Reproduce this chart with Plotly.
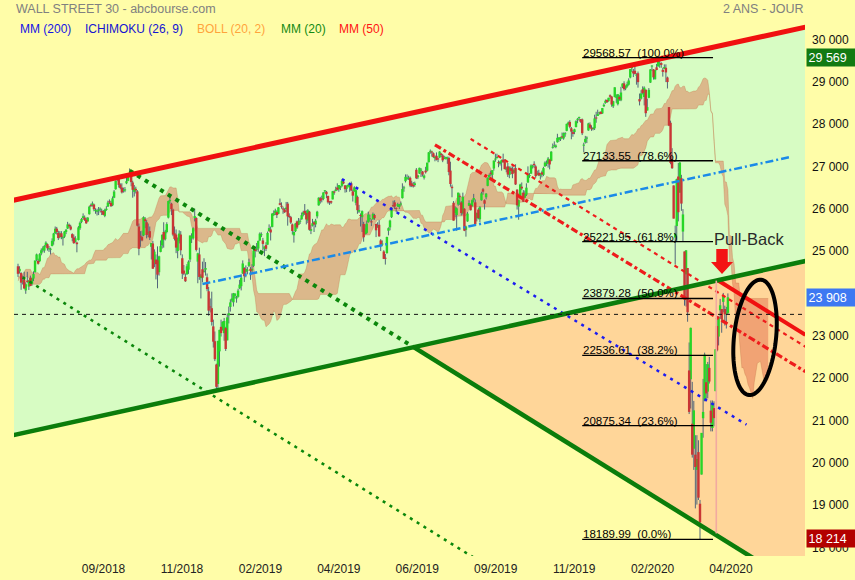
import numpy as np
import plotly.graph_objects as go

FONT = "Arial, 'Liberation Sans', sans-serif"

# ---------------- daily prices, bar 0 = 21/06/2018 ... bar 458 = 17/04/2020 ----------------
opens = [
    24640, 24520, 24480, 24280, 24330, 24070, 24300,
    24160, 24370, 24220, 24350, 24500, 24790, 24770, 24760, 24940, 25020, 25010, 25130, 25160, 25050, 25040, 25120, 25230, 25420, 25530, 25430, 25330,
    25420, 25300, 25340, 25450, 25530, 25620, 25580, 25400, 25320, 25220, 25200, 25260, 25540, 25690, 25780, 25790, 25740, 25700, 25870, 26080, 26080, 26100, 25950,
    25930, 25950, 25980, 25950, 25940, 25830, 25970, 26050, 26170, 26140, 26080, 26260, 26460, 26690, 26700, 26570, 26500, 26420, 26430,
    26600, 26660, 26800, 26800, 26620, 26400, 26470, 26410, 25580, 25350, 25330, 25370, 25750, 25680, 25420, 25470, 25100, 25180, 24720, 24800, 24780, 24500, 24980,
    25130, 25450, 25280, 25450, 25790, 26190, 26120, 25980, 25420, 25390, 25000, 25230, 25390, 24830, 24540, 24390, 24450, 24560, 24800, 25300, 25300,
    25780, 25780, 24750, 24920, 24360, 24570, 24520, 24560, 24380, 24050, 23680, 23650, 23220, 22870, 22320, 21860, 22630, 23210, 23150,
    23060, 23180, 22890, 23480, 23680, 23830, 23790, 23940, 23880, 23920, 24120, 24170, 24470, 24600, 24510, 24540, 24650, 24580, 24540, 24650, 25050,
    25030, 25060, 25250, 25380, 25250, 25050, 25140, 25150, 25470, 25510, 25570, 25850, 25900, 25920, 25880, 26130, 26060, 26000, 25980,
    25990, 26120, 25830, 25800, 25630, 25370, 25470, 25700, 25620, 25700, 25750, 25860, 25950, 25900, 25720, 25930, 25480, 25600, 25680, 25630, 25820,
    26080, 26250, 26240, 26230, 26420, 26400, 26300, 26170, 26180, 26220, 26400, 26420, 26500, 26460, 26510, 26540, 26640, 26550, 26470, 26540, 26500,
    26600, 26410, 26410, 26140, 26280, 25930, 25850, 25800, 25640, 25400, 25430, 25680, 25760, 25700, 25750, 25850, 25640, 25560, 25620, 25250, 25160, 24990,
    24840, 24950, 25480, 25560, 25800, 26080, 26150, 26010, 26060, 26040, 26110, 26250, 26480, 26650, 26720, 26720, 26730, 26600, 26560, 26560,
    26920, 26740, 26830, 26900, 26880, 26730, 26900, 26900, 27100, 27350, 27340, 27310, 27190, 27250, 27180, 27210, 27300, 27260, 27180, 27190, 27170, 27200,
    26900, 26520, 26140, 25900, 25850, 26100, 26300, 26150, 25890, 26000, 25500, 25700, 26070, 26090, 26060, 26210, 26150, 25770, 25980, 25750, 26200, 26460,
    26200, 26270, 26540, 26740, 26840, 26800, 26950, 27160, 27200, 27100, 27060, 27100, 27160, 27110, 26920, 27000, 26800, 26960, 26930, 26850,
    26960, 26450, 26050, 26250, 26520, 26380, 26260, 26330, 26620, 26780, 26830, 27000, 27060, 27000, 26820, 26850, 26780, 26860, 26800, 27000, 27070, 27070, 27160,
    27130, 27440, 27480, 27460, 27570, 27630, 27640, 27700, 27660, 27760, 27840, 28000, 28050, 27900, 27810, 27810, 27930, 28100, 28140, 28110,
    28110, 27500, 27570, 27660, 27850, 27990, 27900, 27880, 27900, 28150, 28190, 28260, 28290, 28250, 28420, 28500, 28570, 28540, 28680, 28650, 28420,
    28640, 28630, 28470, 28640, 28560, 28880, 28960, 28840, 28890, 28930, 29100, 29320, 29250, 29260, 29150, 29200, 28590, 28600, 28820, 28640, 28810,
    28320, 28620, 28980, 29360, 29290, 29060, 29340, 29360, 29420, 29440, 29280, 29310, 29330, 29100, 28400, 28030, 27170, 26550, 25320,
    25590, 26760, 26380, 26720, 25460, 24990, 24450, 24600, 22180, 21970, 20920, 20330, 20190, 19830, 20250, 19030, 19720, 21050, 21470, 21900, 21680, 22240,
    21230, 20820, 21290, 21690, 23230, 22980, 23600, 23630, 23800, 23630, 23520, 23540,
]
highs = [
    24700, 24640, 24500, 24420, 24510, 24260, 24510,
    24320, 24420, 24370, 24520, 24780, 24940, 24820, 24950, 25060, 25110, 25140, 25230, 25180, 25120, 25080, 25300, 25430, 25580, 25570, 25480, 25470,
    25470, 25360, 25470, 25520, 25690, 25650, 25620, 25420, 25390, 25350, 25220, 25590, 25700, 25780, 25890, 25840, 25790, 25800, 26070, 26120, 26170, 26120, 26010,
    26000, 26040, 26030, 26000, 25970, 26000, 26060, 26190, 26220, 26190, 26290, 26440, 26670, 26770, 26720, 26600, 26600, 26500, 26510,
    26770, 26820, 26951, 26810, 26660, 26560, 26520, 26440, 25650, 25470, 25480, 25820, 25800, 25730, 25650, 25580, 25190, 25240, 25040, 24920, 25110, 24890, 25250,
    25400, 25680, 25500, 25680, 26190, 26280, 26140, 26000, 25580, 25510, 25320, 25490, 25470, 24920, 24670, 24470, 24690, 24780, 25370, 25420, 25560,
    26000, 25800, 24960, 25080, 24460, 24750, 24830, 24740, 24470, 24150, 23880, 24040, 23380, 23100, 22340, 22880, 23140, 23380, 23340,
    23420, 23210, 23520, 23690, 23860, 24000, 24010, 24000, 23940, 24110, 24320, 24450, 24780, 24620, 24660, 24620, 24820, 24620, 24690, 25050, 25090,
    25190, 25250, 25440, 25440, 25310, 25110, 25210, 25460, 25630, 25580, 25900, 25960, 26000, 25960, 26040, 26240, 26150, 26050, 26010,
    26160, 26160, 25890, 25830, 25650, 25470, 25660, 25720, 25780, 25770, 25910, 25950, 26110, 25960, 25990, 25950, 25620, 25760, 25710, 25760, 25950,
    26270, 26280, 26310, 26390, 26440, 26420, 26310, 26180, 26190, 26420, 26430, 26520, 26600, 26560, 26540, 26695, 26670, 26560, 26550, 26590, 26600,
    26640, 26450, 26530, 26460, 26310, 26090, 25890, 25960, 25690, 25630, 25720, 25930, 25860, 25750, 25910, 25880, 25650, 25680, 25730, 25280, 25250, 25020,
    24930, 25340, 25560, 25740, 26040, 26190, 26200, 26030, 26140, 26110, 26170, 26600, 26540, 26810, 26810, 26780, 26760, 26660, 26630, 26640,
    26960, 26800, 26970, 26960, 26890, 26810, 26990, 27090, 27340, 27399, 27370, 27330, 27260, 27330, 27210, 27360, 27320, 27290, 27250, 27230, 27230, 27230,
    27110, 26570, 26180, 26060, 26030, 26380, 26360, 26180, 26380, 26010, 25600, 25920, 26200, 26120, 26220, 26350, 26220, 25910, 26020, 26060, 26400, 26490,
    26220, 26370, 26740, 26830, 26900, 26910, 27140, 27300, 27300, 27140, 27130, 27160, 27300, 27170, 26990, 27080, 27000, 27000, 27000, 26970,
    27050, 26460, 26210, 26590, 26620, 26440, 26430, 26600, 27000, 26840, 27050, 27040, 27120, 27030, 26900, 26920, 26840, 26900, 26990, 27120, 27140, 27220, 27170,
    27360, 27540, 27590, 27520, 27770, 27690, 27700, 27800, 27800, 27810, 28010, 28060, 28090, 27930, 27860, 27890, 28090, 28140, 28175, 28120,
    28130, 27560, 27720, 27710, 28030, 28040, 27970, 27930, 28220, 28290, 28340, 28290, 28300, 28380, 28490, 28580, 28580, 28620, 28700, 28660, 28550,
    28870, 28700, 28710, 28680, 28880, 28960, 29010, 28910, 29000, 29080, 29300, 29380, 29300, 29370, 29200, 29240, 28720, 28800, 28890, 28890, 28820,
    28600, 28850, 29300, 29390, 29300, 29280, 29420, 29568.57, 29500, 29460, 29330, 29410, 29410, 29120, 28400, 28080, 27430, 26550, 25600,
    26710, 27080, 27100, 26800, 25990, 24990, 25020, 24600, 22840, 23190, 21910, 21460, 20650, 20650, 20530, 19120, 20700, 21980, 22600, 22330, 22380, 22500,
    21470, 21470, 21450, 22680, 23390, 23460, 23870, 23630, 24010, 23710, 23680, 24000,
]
lows = [
    24390, 24470, 24084, 24210, 24100, 23990, 24250,
    24080, 24170, 24180, 24290, 24490, 24760, 24680, 24740, 24900, 24970, 24960, 25090, 25010, 24980, 24920, 25110, 25150, 25400, 25390, 25260, 25300,
    25280, 25130, 25310, 25400, 25520, 25550, 25490, 25230, 25170, 25200, 24970, 25250, 25500, 25660, 25750, 25710, 25640, 25690, 25860, 26040, 26050, 25940, 25880,
    25840, 25850, 25910, 25850, 25850, 25800, 25950, 26040, 26110, 26040, 26060, 26250, 26450, 26650, 26500, 26460, 26360, 26380, 26390,
    26580, 26650, 26780, 26530, 26260, 26290, 26360, 25580, 24900, 25100, 25230, 25350, 25540, 25300, 25330, 25260, 24800, 24580, 24620, 24330, 24120, 24420, 24970,
    25060, 25080, 25250, 25420, 25770, 26120, 25850, 25350, 25250, 24950, 24830, 25180, 24900, 24340, 24430, 24270, 24440, 24460, 24740, 25190, 25270,
    25700, 24990, 24240, 24320, 23880, 24260, 24490, 24420, 24050, 23470, 23550, 23240, 22720, 22400, 21712, 21760, 22270, 22980, 23120,
    22880, 22640, 22890, 23290, 23570, 23790, 23690, 23880, 23780, 23900, 24100, 24070, 24460, 24270, 24380, 24450, 24620, 24320, 24480, 24620, 24850,
    24990, 24980, 25240, 25330, 25010, 24880, 25000, 25150, 25460, 25250, 25560, 25830, 25850, 25780, 25870, 26080, 26000, 25880, 25900,
    25920, 25600, 25780, 25640, 25390, 25200, 25450, 25520, 25610, 25640, 25740, 25820, 25850, 25630, 25660, 25480, 25400, 25580, 25450, 25560, 25770,
    26070, 26120, 26150, 26200, 26370, 26250, 26120, 26090, 26110, 26220, 26330, 26410, 26430, 26400, 26440, 26510, 26580, 26380, 26390, 26510, 26400,
    26420, 26170, 26400, 26080, 25880, 25900, 25580, 25450, 25220, 25390, 25400, 25670, 25700, 25590, 25740, 25740, 25330, 25550, 25340, 25000, 25120, 24810,
    24680, 24940, 25370, 25490, 25780, 26030, 25990, 25920, 26040, 25990, 26070, 26240, 26400, 26620, 26680, 26680, 26510, 26510, 26500, 26520,
    26700, 26700, 26820, 26750, 26760, 26690, 26830, 26880, 27090, 27300, 27230, 27200, 27120, 27140, 27100, 27200, 27220, 27100, 27170, 27160, 27060, 26790,
    26520, 26270, 25720, 25800, 25480, 26070, 26090, 25840, 25860, 25470, 25340, 25690, 26060, 25960, 26050, 26150, 25600, 25700, 25750, 25680, 26190, 26330,
    25980, 26220, 26530, 26700, 26780, 26700, 26900, 27110, 27180, 26980, 27020, 26900, 27090, 26930, 26860, 26750, 26720, 26810, 26720, 26840,
    26560, 25980, 25740, 26230, 26440, 26160, 26250, 26300, 26610, 26730, 26820, 26950, 26960, 26730, 26790, 26770, 26690, 26740, 26770, 26990, 27010, 26970, 26930,
    27120, 27420, 27450, 27430, 27560, 27580, 27600, 27650, 27630, 27700, 27830, 27970, 27900, 27640, 27700, 27760, 27920, 28020, 28080, 28030,
    27740, 27330, 27540, 27550, 27840, 27890, 27840, 27850, 27860, 28030, 28190, 28220, 28230, 28240, 28400, 28480, 28500, 28530, 28600, 28410, 28380,
    28630, 28500, 28440, 28550, 28540, 28850, 28790, 28800, 28860, 28910, 29080, 29230, 29110, 29170, 28930, 28860, 28440, 28580, 28700, 28440, 28170,
    28320, 28610, 28970, 29250, 29050, 29050, 29270, 29360, 29330, 29330, 29120, 29300, 28990, 28840, 27950, 27050, 26940, 25770, 24681,
    25220, 25700, 26380, 25950, 25230, 23710, 23690, 23330, 21150, 21280, 20120, 19830, 18920, 19010, 19120, 18189.99, 19720, 20590, 21450, 21470, 21520, 21870,
    20740, 20740, 20860, 21690, 22630, 22770, 23400, 23070, 23550, 23240, 23170, 23500,
]
closes = [
    24462, 24580, 24253, 24284, 24117, 24216, 24271,
    24307, 24174, 24356, 24456, 24776, 24920, 24700, 24925, 25019, 25064, 25120, 25199, 25065, 25058, 25044, 25241, 25415, 25527, 25451, 25307, 25415,
    25333, 25327, 25463, 25502, 25629, 25584, 25509, 25313, 25187, 25300, 25162, 25559, 25669, 25758, 25823, 25733, 25656, 25790, 26049, 26064, 26124, 25987, 25965,
    25952, 25975, 25996, 25917, 25857, 25971, 25999, 26145, 26155, 26062, 26246, 26406, 26657, 26744, 26562, 26492, 26385, 26440, 26458,
    26651, 26774, 26828, 26627, 26447, 26487, 26431, 25599, 25053, 25340, 25250, 25798, 25706, 25380, 25444, 25317, 25191, 24583, 24985, 24689, 24443, 24875, 25116,
    25381, 25271, 25462, 25636, 26181, 26191, 25989, 25388, 25287, 25081, 25290, 25414, 25018, 24466, 24465, 24286, 24640, 24749, 25366, 25339, 25538,
    25826, 25027, 24947, 24389, 24423, 24370, 24527, 24597, 24101, 23592, 23676, 23324, 22859, 22445, 21792, 22878, 23138, 23062, 23327,
    23347, 22686, 23433, 23531, 23787, 23879, 24001, 23996, 23910, 24066, 24207, 24370, 24706, 24404, 24575, 24554, 24737, 24529, 24580, 25014, 24999,
    25064, 25239, 25411, 25391, 25169, 25106, 25053, 25425, 25543, 25439, 25883, 25891, 25954, 25850, 26031, 26092, 26057, 25986, 25916,
    26026, 25819, 25806, 25673, 25473, 25450, 25650, 25555, 25702, 25709, 25849, 25914, 25887, 25746, 25963, 25502, 25517, 25658, 25626, 25718, 25929,
    26259, 26180, 26218, 26385, 26425, 26341, 26151, 26157, 26143, 26412, 26385, 26453, 26450, 26559, 26511, 26656, 26597, 26462, 26543, 26554, 26593,
    26430, 26308, 26505, 26438, 25965, 25968, 25828, 25942, 25325, 25532, 25648, 25863, 25764, 25680, 25877, 25776, 25490, 25586, 25347, 25126, 25170, 24815,
    24820, 25332, 25540, 25720, 25984, 26062, 26048, 26005, 26107, 26090, 26112, 26465, 26504, 26753, 26720, 26727, 26548, 26537, 26526, 26600,
    26718, 26787, 26966, 26922, 26806, 26784, 26860, 27088, 27332, 27359, 27336, 27220, 27223, 27154, 27172, 27350, 27270, 27141, 27192, 27222, 27199, 26865,
    26583, 26485, 25718, 26030, 26008, 26379, 26287, 25897, 26280, 25480, 25579, 25886, 26136, 25963, 26202, 26253, 25629, 25899, 25778, 26036, 26363, 26403,
    26118, 26356, 26728, 26797, 26836, 26910, 27137, 27182, 27220, 27076, 27111, 27147, 27095, 26935, 26950, 26808, 26970, 26892, 26820, 26917,
    26573, 26079, 26202, 26573, 26478, 26165, 26347, 26497, 26817, 26787, 27024, 27002, 27026, 26770, 26828, 26788, 26834, 26806, 26958, 27091, 27071, 27186, 27046,
    27347, 27462, 27492, 27493, 27675, 27681, 27691, 27691, 27784, 27782, 28005, 28036, 27934, 27821, 27767, 27876, 28067, 28122, 28164, 28051,
    27783, 27503, 27650, 27677, 28015, 27910, 27882, 27911, 28133, 28135, 28235, 28268, 28240, 28377, 28455, 28551, 28516, 28621, 28645, 28462, 28538,
    28868, 28635, 28703, 28584, 28745, 28957, 28824, 28907, 28940, 29030, 29298, 29348, 29196, 29186, 29160, 28990, 28535, 28723, 28734, 28859, 28256,
    28400, 28808, 29291, 29380, 29103, 29276, 29277, 29551, 29424, 29398, 29232, 29348, 29220, 28992, 27961, 27081, 26957, 25766, 25409,
    26703, 25917, 27091, 26121, 25865, 23851, 25018, 23553, 21200, 23186, 20189, 21237, 19899, 20087, 19174, 18592, 20705, 21200, 22552, 21637, 22327, 21917,
    20944, 21413, 21053, 22680, 22654, 23434, 23719, 23391, 23950, 23504, 23538, 23908,
]
# highs / lows before the first bar (02/03/2018 - 20/06/2018), only feed the Ichimoku cloud
pre_highs = [
    24600, 24950, 24980, 24840, 24930, 25340, 25450, 25400, 25050, 24990, 25030, 24910, 24840, 24980, 24670, 24000, 24220, 24400, 24030, 24200,
    24050, 24060, 24290, 24560, 24340, 24340, 24420, 24350, 24560, 24640, 24620, 24860, 24860, 24720, 24680, 24580, 24860, 24130, 24400, 24390, 24500,
    24130, 24200, 23930, 24300, 24480, 24400, 24580, 24780, 24860, 25050, 24820, 24830, 24880, 24780, 25090, 25090, 24900, 24900, 24810, 24600, 24700, 24650,
    24680, 24860, 24850, 25160, 25330, 25330, 25400, 25400, 25360, 25230, 25180, 25020, 24840, 24760,
]
pre_lows = [
    24120, 24300, 24760, 24560, 24780, 25000, 25150, 24920, 24660, 24780, 24860, 24430, 24640, 24670, 23940, 23510, 23620, 23780, 23640, 23830,
    23340, 23720, 23520, 24320, 23860, 23950, 24100, 24150, 24230, 24270, 24460, 24650, 24700, 24520, 24390, 24370, 23980, 23720, 24110, 24230, 24160,
    23810, 23920, 23530, 23800, 24290, 24130, 24350, 24560, 24700, 24880, 24630, 24670, 24660, 24650, 24880, 24800, 24560, 24630, 24660, 24240, 24390, 24380,
    24460, 24650, 24740, 24810, 25140, 25150, 25300, 25290, 25200, 25080, 24900, 24850, 24530, 24630,
]

tick_pos = [55.2, 105.8, 156.4, 207.0, 257.6, 308.2, 358.8, 409.4, 460.0]
tick_text = ["09/2018", "11/2018", "02/2019", "04/2019", "06/2019", "09/2019", "11/2019", "02/2020", "04/2020"]
y_ticks = list(range(18000, 30001, 1000))

# ---- drawings (bar index, price) ----
red_top = [(-3, 26200), (508, 30290)]
green_bottom = [(-3, 20650), (508, 24765)]
crash_line = [(72, 26900), (508, 16980)]
crash_line_low = [(3, 24380), (508, 12890)]
blue_dashdot = [(119, 24220), (498, 27220)]
blue_dotted = [(209, 26700), (470, 20900)]
red_dashdot = [(269, 27510), (508, 22150)]
red_dotted = [(292, 27650), (508, 22740)]
red_solid = [(452, 24300), (508, 23020)]
dashed_level = 23504
fib_span = (364, 448.4)
fib_values = [29568.57, 27133.55, 25221.95, 23879.28, 22536.61, 20875.34, 18189.99]
fib_pcts = [100.0, 78.6, 61.8, 50.0, 38.2, 23.6, 0.0]
boll_bar = (450.5, 24300, 18330)
pullback_pos = (448.4, 25285)
arrow = dict(x=454.2, top=25050, neck=24740, tip=24460, shaft=3.7, head=7.1)
ellipse = dict(x=475.5, y=22960, rx_px=21, ry_px=58, tilt=6)
badges = [("29 569", 29569, "#127a12"), ("23 908", 23908, "#3d78f2"), ("18 214", 18214, "#b30000")]

X0, X1 = -2.58, 507.74
Y0, Y1 = 17796, 30458
PX_PER_BAR = 791 / (X1 - X0)
PTS_PER_PX = (Y1 - Y0) / 536

BG = "#FFFDA8"
GREEN_BG = "#D7FCC3"
ORANGE_BG = "#FFD699"

for name, arr in [("opens", opens), ("highs", highs), ("lows", lows)]:
    assert len(arr) == len(closes), (name, len(arr), len(closes))
assert len(pre_highs) == len(pre_lows)

n = len(closes)
o = np.array(opens, float)
h = np.array(highs, float)
l = np.array(lows, float)
c = np.array(closes, float)

# ---- Ichimoku (26, 9) ----
full_h = np.array(pre_highs + highs, float)
full_l = np.array(pre_lows + lows, float)
off = len(pre_highs)
SHIFT = 26


def mid(k, p):
    return (full_h[k - p + 1:k + 1].max() + full_l[k - p + 1:k + 1].min()) / 2


span_x, span_a, span_b = [], [], []
for j in range(n + SHIFT):
    k = j - SHIFT + off
    if k - 51 < 0 or k >= len(full_h):
        continue
    span_x.append(j)
    span_a.append((mid(k, 9) + mid(k, 26)) / 2)
    span_b.append(mid(k, 52))

fig = go.Figure()
cloud_line = dict(width=0.7, color="rgba(190,115,70,0.45)")
fig.add_trace(go.Scatter(x=span_x, y=span_a, mode="lines", line=cloud_line, hoverinfo="skip"))
fig.add_trace(go.Scatter(x=span_x, y=span_b, mode="lines", line=cloud_line, fill="tonexty",
                         fillcolor="rgba(224,103,70,0.45)", hoverinfo="skip"))

# ---- candles ----
wx, wy = [], []
gx, gy, rx_, ry_ = [], [], [], []
for i in range(n):
    wx += [i, i, None]
    wy += [l[i], h[i], None]
    lo_b, hi_b = min(o[i], c[i]), max(o[i], c[i])
    if hi_b - lo_b < 25:
        m = (hi_b + lo_b) / 2
        lo_b, hi_b = m - 12.5, m + 12.5
    if c[i] >= o[i]:
        gx += [i, i, None]
        gy += [lo_b, hi_b, None]
    else:
        rx_ += [i, i, None]
        ry_ += [lo_b, hi_b, None]
fig.add_trace(go.Scatter(x=wx, y=wy, mode="lines", line=dict(width=1, color="#52667a"), hoverinfo="skip"))
fig.add_trace(go.Scatter(x=gx, y=gy, mode="lines", line=dict(width=2.4, color="#27d627"), hoverinfo="skip"))
fig.add_trace(go.Scatter(x=rx_, y=ry_, mode="lines", line=dict(width=2.4, color="#c93535"), hoverinfo="skip"))


def intersect(l1, l2):
    (x1, y1), (x2, y2) = l1
    (x3, y3), (x4, y4) = l2
    m1 = (y2 - y1) / (x2 - x1)
    m2 = (y4 - y3) / (x4 - x3)
    x = (y3 - y1 + m1 * x1 - m2 * x3) / (m1 - m2)
    return x, y1 + m1 * (x - x1)


def path(pts, close=True):
    s = "M " + " L ".join(f"{x},{y}" for x, y in pts)
    return s + (" Z" if close else "")


shapes = []
# background areas
shapes.append(dict(type="path", xref="x", yref="y", layer="below", line=dict(width=0), fillcolor=GREEN_BG,
                   path=path([red_top[0], red_top[1], green_bottom[1], green_bottom[0]])))
ix, iy = intersect(crash_line, green_bottom)
shapes.append(dict(type="path", xref="x", yref="y", layer="below", line=dict(width=0), fillcolor=ORANGE_BG,
                   path=path([(ix, iy), green_bottom[1], crash_line[1]])))


def seg(p0, p1, color, width, dash="solid"):
    shapes.append(dict(type="line", xref="x", yref="y", x0=p0[0], y0=p0[1], x1=p1[0], y1=p1[1],
                       line=dict(color=color, width=width, dash=dash)))


seg(*crash_line_low, "#0b870b", 2.6, "3px,5px")
seg(crash_line[0], (ix, iy), "#0b870b", 4, "4px,5px")
seg((ix, iy), crash_line[1], "#0b7d0b", 4.5)
seg(*blue_dotted, "#1c1cf0", 2.5, "3px,5px")
seg(*blue_dashdot, "#1a8ae8", 2.5, "8px,3px,2px,3px")
seg(*red_dotted, "#ee1c1c", 2.2, "4px,4px")
seg(*red_dashdot, "#ee1c1c", 3.2, "7px,3px,3px,3px")
seg(*red_solid, "#f01010", 4)
seg(*red_top, "#f01010", 5)
seg(*green_bottom, "#0b7d0b", 4.5)
shapes.append(dict(type="line", xref="paper", yref="y", x0=0, x1=1, y0=dashed_level, y1=dashed_level,
                   line=dict(color="#111", width=1, dash="4px,4px")))
# bollinger marker
shapes.append(dict(type="line", xref="x", yref="y", x0=boll_bar[0], x1=boll_bar[0], y0=boll_bar[1], y1=boll_bar[2],
                   line=dict(color="#f2aaa0", width=1.6)))

# fibonacci
annotations = []
for v, p in zip(fib_values, fib_pcts):
    shapes.append(dict(type="line", xref="x", yref="y", x0=fib_span[0], x1=fib_span[1], y0=v, y1=v,
                       line=dict(color="#000", width=1.3)))
    annotations.append(dict(x=fib_span[0], y=v, xref="x", yref="y", xanchor="left", yanchor="bottom",
                            text=f"{v:.2f} \u00a0({p:.1f}%)", showarrow=False, xshift=-1, yshift=-3,
                            font=dict(size=11.5, color="#000", family=FONT)))

# arrow
a = arrow
shapes.append(dict(type="path", xref="x", yref="y", fillcolor="#f31414", line=dict(width=0),
                   path=path([(a["x"] - a["shaft"], a["top"]), (a["x"] + a["shaft"], a["top"]),
                              (a["x"] + a["shaft"], a["neck"]), (a["x"] + a["head"], a["neck"]),
                              (a["x"], a["tip"]), (a["x"] - a["head"], a["neck"]),
                              (a["x"] - a["shaft"], a["neck"])])))

# ellipse
e = ellipse
phi = np.radians(e["tilt"])
pts = []
for t in np.linspace(0, 2 * np.pi, 97):
    ex, ey = e["rx_px"] * np.cos(t), e["ry_px"] * np.sin(t)
    rxp = ex * np.cos(phi) - ey * np.sin(phi)
    ryp = ex * np.sin(phi) + ey * np.cos(phi)
    pts.append((e["x"] + rxp / PX_PER_BAR, e["y"] - ryp * PTS_PER_PX))
shapes.append(dict(type="path", xref="x", yref="y", line=dict(color="#000", width=4), path=path(pts)))

annotations.append(dict(x=pullback_pos[0], y=pullback_pos[1], xref="x", yref="y", xanchor="left", yanchor="middle",
                        text="Pull-Back", showarrow=False, xshift=-1,
                        font=dict(size=16.5, color="#2a2a2a", family=FONT)))

for txt, v, col in badges:
    annotations.append(dict(x=1, xref="paper", y=v, yref="y", xanchor="left", yanchor="middle", xshift=1,
                            text=txt, showarrow=False, bgcolor=col, borderpad=1.5, width=45, align="left",
                            font=dict(size=12.5, color="white", family=FONT)))


def py(ypix):
    return (556 - ypix) / 536


def px(xpix):
    return (xpix - 14) / 791


annotations.append(dict(x=px(14), y=py(9), xref="paper", yref="paper", xanchor="left", yanchor="middle",
                        text="WALL STREET 30 - abcbourse.com", showarrow=False,
                        font=dict(size=12.5, color="#808080", family=FONT)))
annotations.append(dict(x=px(806), y=py(9), xref="paper", yref="paper", xanchor="right", yanchor="middle",
                        text="2 ANS - JOUR", showarrow=False, font=dict(size=12.5, color="#808080", family=FONT)))
legend_items = [("MM (200)", 19, "#1414e6"), ("ICHIMOKU (26, 9)", 84, "#1414d2"), ("BOLL (20, 2)", 196, "#ffa43c"),
                ("MM (20)", 280, "#138a13"), ("MM (50)", 338, "#ff1414")]
for txt, xp, col in legend_items:
    annotations.append(dict(x=px(xp), y=py(29.5), xref="paper", yref="paper", xanchor="left", yanchor="middle",
                            text=txt, showarrow=False, xshift=-1, font=dict(size=12, color=col, family=FONT)))

fig.update_layout(
    width=855, height=580,
    margin=dict(l=14, r=50, t=20, b=24),
    paper_bgcolor=BG, plot_bgcolor=BG,
    showlegend=False,
    font=dict(family=FONT, size=12, color="#222"),
    shapes=shapes, annotations=annotations,
    xaxis=dict(range=[X0, X1], tickvals=tick_pos, ticktext=tick_text, showgrid=False, zeroline=False,
               showline=False, ticks="", tickfont=dict(size=12, color="#222"), automargin=False,
               ticklabelstandoff=4, fixedrange=True),
    yaxis=dict(range=[Y0, Y1], side="right", tickvals=y_ticks,
               ticktext=[f"{v // 1000} {v % 1000:03d}" for v in y_ticks],
               showgrid=False, zeroline=False, showline=False, ticks="", automargin=False,
               tickfont=dict(size=12, color="#111"), ticklabelstandoff=6, fixedrange=True),
)

fig.write_html(
    "out.html",
    config={"displayModeBar": False},
    post_script="document.body.style.margin='0';document.body.style.padding='0';"
                "document.body.style.background='" + BG + "';",
)
